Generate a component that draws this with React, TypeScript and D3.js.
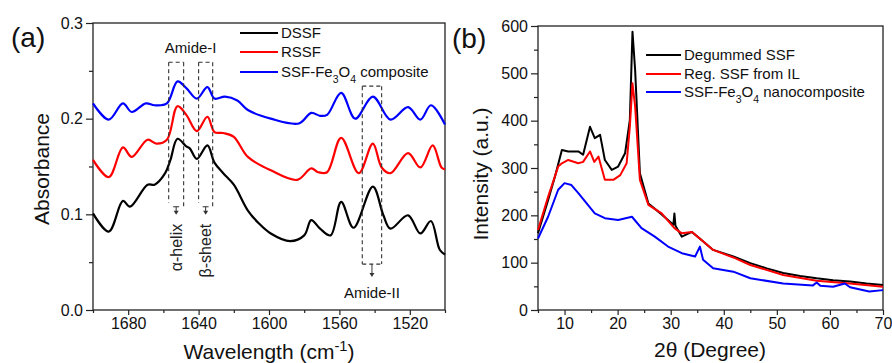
import React, { useRef, useEffect } from 'react';
import * as d3 from 'd3';

// (a) FTIR spectra, wavenumber (cm-1) -> absorbance
const dssfWn = [1700, 1691, 1683, 1679, 1669, 1665, 1659, 1656, 1652, 1647, 1645, 1641, 1635, 1631, 1626, 1620, 1612, 1606, 1599, 1588, 1580, 1576, 1571, 1565, 1559, 1552, 1541, 1535, 1531, 1521, 1514, 1508, 1503, 1500];
const dssfAbs = [0.101, 0.082, 0.114, 0.108, 0.131, 0.131, 0.143, 0.157, 0.179, 0.171, 0.169, 0.158, 0.172, 0.154, 0.143, 0.131, 0.104, 0.091, 0.080, 0.072, 0.078, 0.094, 0.085, 0.078, 0.113, 0.086, 0.129, 0.099, 0.085, 0.099, 0.080, 0.093, 0.063, 0.058];

const rssfWn = [1700, 1691, 1683, 1678, 1669, 1664, 1658, 1652, 1647, 1641, 1635, 1631, 1626, 1620, 1612, 1599, 1584, 1576, 1572, 1567, 1559, 1549, 1541, 1536, 1531, 1521, 1514, 1507, 1502, 1500];
const rssfAbs = [0.157, 0.139, 0.170, 0.160, 0.178, 0.174, 0.178, 0.213, 0.204, 0.187, 0.202, 0.186, 0.185, 0.181, 0.160, 0.146, 0.136, 0.148, 0.144, 0.144, 0.180, 0.143, 0.174, 0.149, 0.143, 0.164, 0.149, 0.172, 0.149, 0.147];

const compWn = [1700, 1691, 1683, 1678, 1670, 1665, 1658, 1652, 1647, 1641, 1635, 1631, 1625, 1618, 1612, 1599, 1583, 1576, 1571, 1567, 1559, 1551, 1541, 1531, 1521, 1514, 1508, 1500];
const compAbs = [0.216, 0.199, 0.216, 0.207, 0.216, 0.214, 0.216, 0.239, 0.232, 0.221, 0.233, 0.221, 0.223, 0.219, 0.209, 0.200, 0.195, 0.206, 0.203, 0.204, 0.227, 0.200, 0.223, 0.199, 0.212, 0.199, 0.214, 0.194];

// (b) XRD patterns, 2theta (deg) -> intensity (a.u.)
const degTheta = [5, 6.9, 8.2, 9.5, 10.7, 12.6, 13.5, 14.8, 15.7, 16.7, 17.6, 18.9, 20.1, 21.4, 22.3, 22.8, 23.3, 24.2, 25.8, 28.3, 30.5, 30.7, 30.9, 32.1, 34, 35.8, 38, 41.8, 45, 48.1, 51.2, 54.4, 57.5, 60.6, 63.8, 66.9, 70];
const degInt = [162, 232, 282, 338, 335, 335, 328, 387, 363, 370, 317, 296, 303, 331, 401, 588, 507, 289, 225, 202, 180, 204, 178, 155, 165, 148, 127, 113, 99, 88, 78, 72, 67, 63, 60, 56, 53];

const regTheta = [5, 6.9, 8.8, 9.5, 10.7, 12.6, 13.5, 14.8, 15.6, 16.4, 17.6, 19.2, 20.5, 21.7, 22.3, 22.8, 23.3, 24.2, 25.8, 28.3, 30.7, 32.1, 34, 35.8, 38, 41.8, 45, 51.2, 57.5, 63.8, 70];
const regInt = [169, 239, 303, 310, 317, 310, 313, 335, 313, 324, 275, 275, 285, 310, 387, 479, 430, 275, 222, 204, 173, 162, 165, 148, 127, 111, 95, 74, 62, 56, 49];

const nanoTheta = [5, 6.9, 8.8, 10, 11.3, 12.6, 13.9, 15.7, 17.6, 20.1, 22.7, 24.5, 27, 29.5, 32.1, 34.6, 35.5, 36.1, 38, 41.8, 45, 51.2, 56.8, 57.5, 58.2, 60.6, 62.8, 63.8, 67.4, 70];
const nanoInt = [151, 197, 254, 268, 264, 247, 229, 204, 194, 190, 197, 173, 155, 134, 120, 113, 134, 106, 88, 81, 67, 56, 52, 58, 51, 49, 56, 48, 39, 42];

const ftirTicks = [1680, 1640, 1600, 1560, 1520];
const ftirMinor = [1700, 1660, 1620, 1580, 1540, 1500];
const absTicks = [0, 0.1, 0.2, 0.3];
const absMinor = [0.05, 0.15, 0.25];
const thetaTicks = [10, 20, 30, 40, 50, 60, 70];
const thetaMinor = [5, 15, 25, 35, 45, 55, 65];
const intTicks = [0, 100, 200, 300, 400, 500, 600];
const intMinor = [50, 150, 250, 350, 450, 550];

const FONT = '"Liberation Sans", Arial, sans-serif';
const AX = '#222';

function App() {
  const svgRef = useRef<SVGSVGElement>(null);

  useEffect(() => {
    const svg = d3.select(svgRef.current);
    svg.selectAll('*').remove();
    svg.style('font-family', FONT);

    const zip = (xs: number[], ys: number[]) => xs.map((x, i) => [x, ys[i]] as [number, number]);

    // draws frame + axes
    const drawFrame = (x: any, y: any, xt: number[], xm: number[], yt: number[], ym: number[], yFmt: (d: any) => string) => {
      const [l, r] = x.range().slice().sort((a: number, b: number) => a - b);
      const [t, b] = y.range().slice().sort((a: number, b: number) => a - b);
      const g = svg.append('g');

      g.append('g').attr('transform', `translate(0,${b})`)
        .call(d3.axisBottom(x).tickValues(xt).tickSize(5).tickPadding(3).tickFormat(d3.format('d')));
      g.append('g').attr('transform', `translate(0,${b})`)
        .call(d3.axisBottom(x).tickValues(xm).tickSize(3).tickFormat(() => ''));
      g.append('g').attr('transform', `translate(${l},0)`)
        .call(d3.axisLeft(y).tickValues(yt).tickSize(7).tickPadding(3).tickFormat(yFmt));
      g.append('g').attr('transform', `translate(${l},0)`)
        .call(d3.axisLeft(y).tickValues(ym).tickSize(4).tickFormat(() => ''));
      g.selectAll('.domain').remove();
      g.selectAll('.tick line').attr('stroke', AX).attr('stroke-width', 1.2);
      g.selectAll('.tick text').attr('font-family', FONT).attr('font-size', 16).attr('fill', '#111');

      g.append('rect')
        .attr('x', l).attr('y', t).attr('width', r - l).attr('height', b - t)
        .attr('fill', 'none').attr('stroke', AX).attr('stroke-width', 1.3);
      return g;
    };

    const addText = (sel: any, parts: [string, string][]) => {
      parts.forEach(([txt, kind]) => {
        const ts = sel.append('tspan').text(txt);
        if (kind === 'sub') ts.attr('font-size', '70%').attr('baseline-shift', 'sub');
        if (kind === 'sup') ts.attr('font-size', '70%').attr('baseline-shift', 'super');
      });
      return sel;
    };

    const legend = (x0: number, x1: number, rows: number[], items: { color: string; parts: [string, string][] }[]) => {
      items.forEach((it, i) => {
        svg.append('line').attr('x1', x0).attr('x2', x1).attr('y1', rows[i]).attr('y2', rows[i])
          .attr('stroke', it.color).attr('stroke-width', 2.2);
        const t = svg.append('text').attr('x', x1 + 3).attr('y', rows[i]).attr('dy', '0.36em')
          .attr('font-size', 15).attr('fill', '#111');
        addText(t, it.parts);
      });
    };

    // ---------- panel (a) ----------
    const xA = d3.scaleLinear().domain([1700, 1500]).range([93, 445]);
    const yA = d3.scaleLinear().domain([0, 0.3]).range([310, 23]);
    drawFrame(xA, yA, ftirTicks, ftirMinor, absTicks, absMinor, d3.format('.1f'));

    const lineA = d3.line<[number, number]>().x(d => xA(d[0])).y(d => yA(d[1])).curve(d3.curveCatmullRom.alpha(0.5));
    [
      { d: zip(dssfWn, dssfAbs), c: '#000000' },
      { d: zip(rssfWn, rssfAbs), c: '#ff0000' },
      { d: zip(compWn, compAbs), c: '#0000ff' },
    ].forEach(s => {
      svg.append('path').attr('d', lineA(s.d)).attr('fill', 'none')
        .attr('stroke', s.c).attr('stroke-width', 2.2).attr('stroke-linejoin', 'round');
    });

    // dashed annotation boxes
    const dash = (x1: number, y1: number, x2: number, y2: number) =>
      svg.append('line').attr('x1', x1).attr('y1', y1).attr('x2', x2).attr('y2', y2)
        .attr('stroke', '#333').attr('stroke-width', 1.1).attr('stroke-dasharray', '4,3');
    const arrow = (x: number, y1: number, y2: number) => {
      svg.append('line').attr('x1', x).attr('x2', x).attr('y1', y1).attr('y2', y2 - 3)
        .attr('stroke', '#333').attr('stroke-width', 1);
      svg.append('path').attr('d', `M${x - 2.5},${y2 - 4}L${x + 2.5},${y2 - 4}L${x},${y2}Z`).attr('fill', '#333');
    };

    const bands = [
      { w0: 1657, w1: 1648.5, top: 0.259, bot: 0.110, label: 'α-helix' },
      { w0: 1640, w1: 1632, top: 0.259, bot: 0.110, label: 'β-sheet' },
    ];
    bands.forEach(b => {
      const x0 = xA(b.w0), x1 = xA(b.w1), y0 = yA(b.top), y1 = yA(b.bot);
      dash(x0, y0, x1, y0);
      dash(x0, y0, x0, y1 - 2);
      dash(x1, y0, x1, y1 + 2);
      const xc = (x0 + x1) / 2;
      svg.append('line').attr('x1', xc - 3).attr('x2', xc + 3).attr('y1', y1 + 2).attr('y2', y1 + 2)
        .attr('stroke', '#333').attr('stroke-width', 1);
      arrow(xc, y1 + 2, y1 + 10);
      svg.append('text').attr('transform', `translate(${xc},${y1 + 19}) rotate(-90)`)
        .attr('text-anchor', 'end').attr('dy', '0.36em').attr('font-size', 16).attr('fill', '#222')
        .text(b.label);
    });
    svg.append('text').attr('x', (xA(1657) + xA(1632)) / 2).attr('y', 53).attr('text-anchor', 'middle')
      .attr('font-size', 15).attr('fill', '#111').text('Amide-I');

    // Amide-II box
    {
      const x0 = xA(1547), x1 = xA(1536), y0 = yA(0.234), y1 = yA(0.048);
      dash(x0, y0, x1, y0);
      dash(x0, y0, x0, y1);
      dash(x1, y0, x1, y1);
      dash(x0, y1, x1, y1);
      const xc = (x0 + x1) / 2;
      arrow(xc, y1, y1 + 13);
      svg.append('text').attr('x', xc).attr('y', 298).attr('text-anchor', 'middle')
        .attr('font-size', 15).attr('fill', '#111').text('Amide-II');
    }

    legend(240, 278, [33, 52, 72], [
      { color: '#000000', parts: [['DSSF', '']] },
      { color: '#ff0000', parts: [['RSSF', '']] },
      { color: '#0000ff', parts: [['SSF-Fe', ''], ['3', 'sub'], ['O', ''], ['4', 'sub'], [' composite', '']] },
    ]);

    svg.append('text').attr('x', 11).attr('y', 47).attr('font-size', 28).attr('fill', '#111').text('(a)');
    svg.append('text').attr('transform', `translate(49,169) rotate(-90)`)
      .attr('text-anchor', 'middle').attr('font-size', 21).attr('fill', '#111').text('Absorbance');
    addText(svg.append('text').attr('x', 269).attr('y', 359).attr('text-anchor', 'middle')
      .attr('font-size', 21).attr('fill', '#111'), [['Wavelength (cm', ''], ['-1', 'sup'], [')', '']]);

    // ---------- panel (b) ----------
    const xB = d3.scaleLinear().domain([5, 70]).range([538, 883]);
    const yB = d3.scaleLinear().domain([0, 600]).range([310, 26]);
    drawFrame(xB, yB, thetaTicks, thetaMinor, intTicks, intMinor, d3.format('d'));

    const lineB = d3.line<[number, number]>().x(d => xB(d[0])).y(d => yB(d[1]));
    [
      { d: zip(degTheta, degInt), c: '#000000' },
      { d: zip(regTheta, regInt), c: '#ff0000' },
      { d: zip(nanoTheta, nanoInt), c: '#0000ff' },
    ].forEach(s => {
      svg.append('path').attr('d', lineB(s.d)).attr('fill', 'none')
        .attr('stroke', s.c).attr('stroke-width', 2).attr('stroke-linejoin', 'round');
    });

    legend(646, 681, [55, 74, 92], [
      { color: '#000000', parts: [['Degummed SSF', '']] },
      { color: '#ff0000', parts: [['Reg. SSF from IL', '']] },
      { color: '#0000ff', parts: [['SSF-Fe', ''], ['3', 'sub'], ['O', ''], ['4', 'sub'], [' nanocomposite', '']] },
    ]);

    svg.append('text').attr('x', 452).attr('y', 48).attr('font-size', 28).attr('fill', '#111').text('(b)');
    svg.append('text').attr('transform', `translate(488,174) rotate(-90)`)
      .attr('text-anchor', 'middle').attr('font-size', 21).attr('fill', '#111').text('Intensity (a.u.)');
    svg.append('text').attr('x', 710).attr('y', 357).attr('text-anchor', 'middle')
      .attr('font-size', 21).attr('fill', '#111').text('2θ (Degree)');
  }, []);

  return (
    <div style={{ position: 'absolute', left: 0, top: 0, width: 892, height: 363, background: '#fff' }}>
      <svg ref={svgRef} width={892} height={363} style={{ display: 'block' }}></svg>
    </div>
  );
}

export default App;
